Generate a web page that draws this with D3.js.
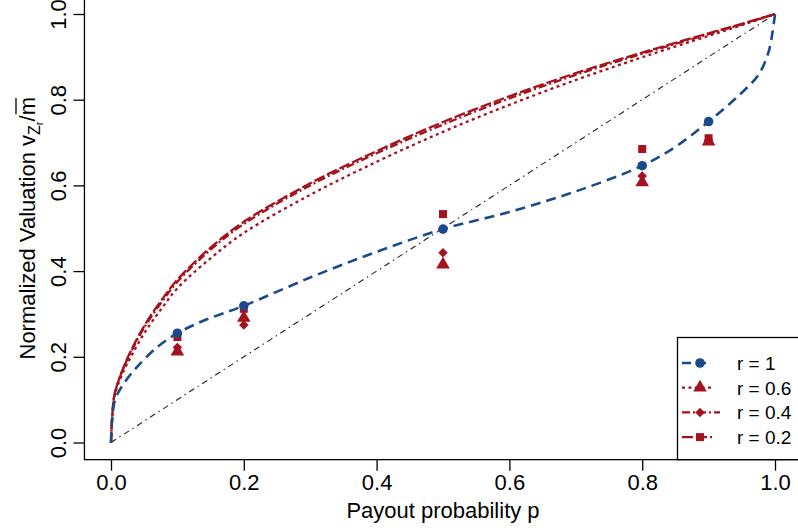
<!DOCTYPE html>
<html>
<head>
<meta charset="utf-8">
<script src="https://cdn.jsdelivr.net/npm/d3@7"></script>
<style>
  body { margin: 0; background: #fff; }
  svg { display: block; font-family: Arial, "Liberation Sans", sans-serif; }
</style>
</head>
<body>
<svg id="chart" width="798" height="531"></svg>
<script>
// curves
const pBlue = [0, 0.002, 0.006, 0.0136, 0.025, 0.039, 0.069, 0.1, 0.139, 0.2, 0.3, 0.4, 0.5, 0.6, 0.7, 0.8, 0.85, 0.9, 0.947, 0.975, 0.99, 0.996, 1];
const vBlue = [0, 0.06, 0.099, 0.124, 0.15, 0.176, 0.222, 0.255, 0.284, 0.319, 0.385, 0.445, 0.498, 0.538, 0.586, 0.646, 0.69, 0.749, 0.812, 0.858, 0.91, 0.955, 1];

const pRed = [0, 0.002, 0.005, 0.01, 0.02, 0.03, 0.05, 0.075, 0.1, 0.15, 0.2, 0.3, 0.4, 0.5, 0.6, 0.7, 0.8, 0.9, 0.95, 1];
const vR02 = [0, 0.065, 0.11, 0.138, 0.18, 0.214, 0.272, 0.33, 0.38, 0.455, 0.515, 0.605, 0.68, 0.748, 0.808, 0.862, 0.91, 0.955, 0.977, 1];
const vR04 = [0, 0.065, 0.11, 0.138, 0.178, 0.211, 0.268, 0.325, 0.375, 0.45, 0.51, 0.6, 0.675, 0.742, 0.803, 0.858, 0.907, 0.953, 0.976, 1];
const vR06 = [0, 0.062, 0.105, 0.133, 0.17, 0.2, 0.255, 0.31, 0.36, 0.43, 0.489, 0.578, 0.655, 0.725, 0.788, 0.846, 0.899, 0.949, 0.974, 1];

// observed points
const pObs = [0.1, 0.2, 0.5, 0.8, 0.9];
const obsR1 = [0.255, 0.319, 0.498, 0.646, 0.749];
const obsR06 = [0.212, 0.291, 0.415, 0.607, 0.702];
const obsR04 = [0.222, 0.274, 0.443, 0.622, 0.706];
const obsR02 = [0.246, 0.312, 0.533, 0.685, 0.71];

const diagP = [0, 1];
const ticks = [0, 0.2, 0.4, 0.6, 0.8, 1.0];
const legendLabels = ['r = 1', 'r = 0.6', 'r = 0.4', 'r = 0.2'];

const BLUE = '#1b4a8c', RED = '#a5121d';

const svg = d3.select('#chart');
const x = d3.scaleLinear().domain([0, 1]).range([111, 775]);
const y = d3.scaleLinear().domain([0, 1]).range([442.5, 14]);

// box (R-style 4% padding)
svg.append('rect')
    .attr('x', x(-0.04)).attr('y', y(1.04))
    .attr('width', x(1.04) - x(-0.04)).attr('height', y(-0.04) - y(1.04))
    .attr('fill', 'none').attr('stroke', '#000').attr('stroke-width', 1.3);

// axes
const xAxis = svg.append('g')
    .attr('transform', `translate(0,${y(-0.04)})`)
    .call(d3.axisBottom(x).tickValues(ticks).tickFormat(d3.format('.1f')).tickSize(11).tickSizeOuter(0));
xAxis.select('.domain').remove();
xAxis.selectAll('line').attr('stroke-width', 1.3);
xAxis.selectAll('text').attr('font-size', 22).attr('font-family', 'Arial, Liberation Sans').attr('fill', '#000').attr('dy', '0.72em').attr('y', 15);

const yAxis = svg.append('g')
    .attr('transform', `translate(${x(-0.04)},0)`)
    .call(d3.axisLeft(y).tickValues(ticks).tickFormat(d3.format('.1f')).tickSize(11).tickSizeOuter(0));
yAxis.select('.domain').remove();
yAxis.selectAll('line').attr('stroke-width', 1.3);
yAxis.selectAll('text')
    .attr('font-size', 22).attr('font-family', 'Arial, Liberation Sans').attr('fill', '#000')
    .attr('x', null).attr('dy', null)
    .attr('text-anchor', 'middle')
    .attr('transform', 'translate(-18,0) rotate(-90)');

// axis titles
svg.append('text')
    .attr('x', x(0.5)).attr('y', 518)
    .attr('text-anchor', 'middle').attr('font-size', 22)
    .text('Payout probability p');

const yl = svg.append('g').attr('transform', `translate(35,${y(0.5)}) rotate(-90)`);
const ylt = yl.append('text').attr('text-anchor', 'middle').attr('font-size', 22);
ylt.append('tspan').text('Normalized Valuation v');
ylt.append('tspan').attr('font-size', 16).attr('dy', 5).text('Z');
ylt.append('tspan').attr('font-size', 11).attr('dy', 3).text('r');
ylt.append('tspan').attr('dy', -8).text('/');
ylt.append('tspan').text('m');
// overline over m
const n = ylt.node().getNumberOfChars();
const mStart = ylt.node().getStartPositionOfChar(n - 1);
const mEnd = ylt.node().getEndPositionOfChar(n - 1);
yl.append('line')
    .attr('x1', mStart.x + 1).attr('x2', mEnd.x - 1)
    .attr('y1', -19).attr('y2', -19)
    .attr('stroke', '#000').attr('stroke-width', 1.3);

// diagonal
svg.append('path')
    .datum(diagP)
    .attr('d', d3.line().x(d => x(d)).y(d => y(d)))
    .attr('fill', 'none').attr('stroke', '#222').attr('stroke-width', 1.1)
    .attr('stroke-dasharray', '6,4,1.5,4');

const curve = d3.line().x(d => x(d[0])).y(d => y(d[1])).curve(d3.curveCatmullRom.alpha(0.5));

const diamond = { draw(ctx, size) { const r = Math.sqrt(size / 2); ctx.moveTo(0, -r); ctx.lineTo(r, 0); ctx.lineTo(0, r); ctx.lineTo(-r, 0); ctx.closePath(); } };

const series = [
    { label: legendLabels[1], p: pRed, v: vR06, color: RED, dash: '3,3.5', width: 2.3, obs: obsR06, sym: d3.symbolTriangle, size: 80 },
    { label: legendLabels[2], p: pRed, v: vR04, color: RED, dash: '8,3,2,3', width: 2.3, obs: obsR04, sym: diamond, size: 45 },
    { label: legendLabels[3], p: pRed, v: vR02, color: RED, dash: '11,3', width: 2.3, obs: obsR02, sym: d3.symbolSquare, size: 64 },
    { label: legendLabels[0], p: pBlue, v: vBlue, color: BLUE, dash: '10,6', width: 2.6, obs: obsR1, sym: d3.symbolCircle, size: 72 }
];

series.forEach(s => {
    svg.append('path')
        .datum(s.p.map((p, i) => [p, s.v[i]]))
        .attr('d', curve)
        .attr('fill', 'none').attr('stroke', s.color)
        .attr('stroke-width', s.width).attr('stroke-dasharray', s.dash);
});

series.forEach(s => {
    svg.append('g').selectAll('path')
        .data(pObs.map((p, i) => [p, s.obs[i]]))
        .join('path')
        .attr('transform', d => `translate(${x(d[0])},${y(d[1])})`)
        .attr('d', d3.symbol().type(s.sym).size(s.size))
        .attr('fill', s.color);
});

// legend
const lg = svg.append('g');
lg.append('rect')
    .attr('x', 677.5).attr('y', 337.5).attr('width', 140).attr('height', y(-0.04) - 337.5)
    .attr('fill', '#fff').attr('stroke', '#000').attr('stroke-width', 1.3);
const legOrder = [series[3], series[0], series[1], series[2]];
legOrder.forEach((s, i) => {
    const ly = 363 + i * 24.7;
    lg.append('line')
        .attr('x1', 682).attr('x2', i === 2 ? 720 : 712)
        .attr('y1', ly).attr('y2', ly)
        .attr('stroke', s.color).attr('stroke-width', s.width).attr('stroke-dasharray', i === 0 ? '9,6' : s.dash);
    lg.append('path')
        .attr('transform', `translate(700,${ly})`)
        .attr('d', d3.symbol().type(s.sym).size(s.size))
        .attr('fill', s.color);
    lg.append('text')
        .attr('x', 737).attr('y', ly + 7)
        .attr('font-size', 19)
        .text(s.label);
});
</script>
</body>
</html>
